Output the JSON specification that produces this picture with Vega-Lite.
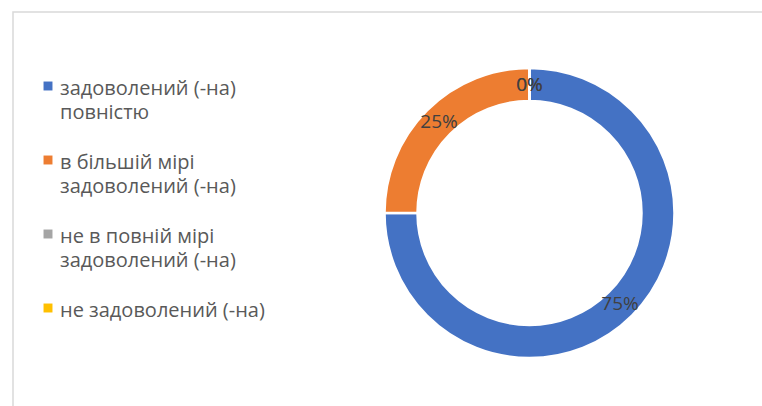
{
  "$schema": "https://vega.github.io/schema/vega-lite/v6.json",
  "width": 1033,
  "height": 402,
  "padding": {"left": 12, "top": 11, "right": 0, "bottom": 0},
  "background": "white",
  "config": {
    "view": {"stroke": null},
    "font": "Open Sans",
    "style": {"guide-label": {"lineHeight": 24, "dy": -7}}
  },
  "data": {
    "values": [
      {"category": "задоволений (-на) повністю", "share": 0.75},
      {"category": "в більшій мірі задоволений (-на)", "share": 0.25},
      {"category": "не в повній мірі задоволений (-на)", "share": 0},
      {"category": "не задоволений (-на)", "share": 0}
    ]
  },
  "layer": [
    {
      "data": {"values": [{"frame": "chart area"}]},
      "mark": {"type": "rect", "fill": "white", "stroke": "#d9d9d9", "strokeWidth": 1.5},
      "encoding": {}
    },
    {
      "mark": {"type": "arc", "innerRadius": 112, "outerRadius": 145, "stroke": "white", "strokeWidth": 2.5},
      "encoding": {
        "theta": {"field": "share", "type": "quantitative", "stack": true, "scale": {"reverse": true}},
        "color": {
          "field": "category",
          "type": "nominal",
          "sort": ["задоволений (-на) повністю", "в більшій мірі задоволений (-на)", "не в повній мірі задоволений (-на)", "не задоволений (-на)"],
          "scale": {
            "domain": ["задоволений (-на) повністю", "в більшій мірі задоволений (-на)", "не в повній мірі задоволений (-на)", "не задоволений (-на)"],
            "range": ["#4472C4", "#ED7D31", "#A5A5A5", "#FFC000"]
          },
          "legend": {
            "title": null,
            "orient": "none",
            "legendX": 25,
            "legendY": 64,
            "symbolType": "square",
            "symbolSize": 80,
            "symbolStrokeWidth": 0,
            "labelFont": "Open Sans",
            "labelFontSize": 20,
            "labelColor": "#595959",
            "labelOffset": 2,
            "labelLimit": 400,
            "labelBaseline": "top",
            "rowPadding": 27,
            "labelExpr": "datum.value == 'задоволений (-на) повністю' ? ['задоволений (-на)', 'повністю'] : datum.value == 'в більшій мірі задоволений (-на)' ? ['в більшій мірі', 'задоволений (-на)'] : datum.value == 'не в повній мірі задоволений (-на)' ? ['не в повній мірі', 'задоволений (-на)'] : [datum.label, ' ']"
          }
        }
      }
    },
    {
      "mark": {"type": "text", "radius": 128, "fontSize": 19, "fill": "#404040", "font": "Open Sans"},
      "encoding": {
        "theta": {"field": "share", "type": "quantitative", "stack": true, "scale": {"reverse": true}},
        "color": {"field": "category", "type": "nominal", "sort": ["задоволений (-на) повністю", "в більшій мірі задоволений (-на)", "не в повній мірі задоволений (-на)", "не задоволений (-на)"]},
        "text": {"field": "share", "type": "quantitative", "format": ".0%"}
      }
    }
  ]
}
